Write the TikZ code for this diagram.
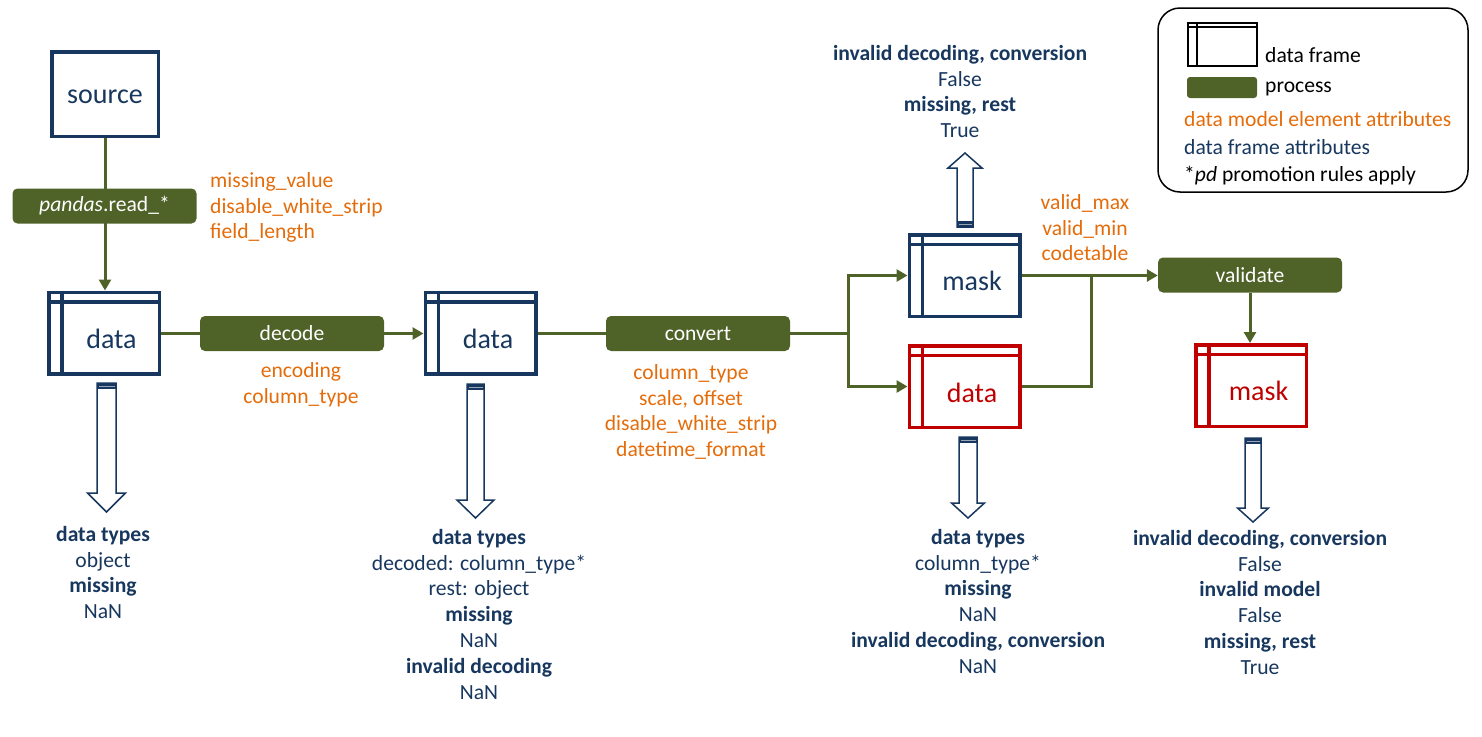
\documentclass[tikz,border=0pt]{standalone}
\usepackage{fontspec}
\setmainfont{Carlito}
\usetikzlibrary{arrows.meta}
\definecolor{navy}{HTML}{17375E}
\definecolor{olive}{HTML}{4F6228}
\definecolor{dred}{HTML}{C00000}
\definecolor{orng}{HTML}{E46C0A}
\newcommand\txtsize{\fontsize{21.6}{25.8}\selectfont}
\newcommand\bigsize{\fontsize{28}{32}\selectfont}
\tikzset{
  dframe/.style={draw=#1, line width=3.5pt, fill=white, minimum width=110.5pt, minimum height=81.5pt, inner sep=0pt},
  dlabel/.style={text=#1, font=\bigsize, inner sep=0pt},
  proc/.style={fill=olive, rounded corners=5pt, minimum width=184pt, minimum height=35pt, inner sep=0pt, text=white, font=\txtsize},
  conn/.style={draw=olive, line width=3pt},
  arr/.style={conn, -{Triangle[length=11pt,width=12pt]}},
  dftxt/.style={text=navy, font=\txtsize, align=center, inner sep=0pt, anchor=north},
  attr/.style={text=orng, font=\txtsize, align=center, inner sep=0pt, anchor=north},
  harrow/.style={draw=navy, line width=1.5pt, fill=white, line join=miter},
}
\newcommand\framelines[3]{%
  \draw[#1, line width=3.5pt] ([yshift=-11.5pt]#2.north west) -- ([yshift=-11.5pt]#2.north east);
  \draw[#1, line width=3.5pt] ([xshift=15pt]#2.north west) -- ([xshift=15pt]#2.south west);
}
% cx, top, half stem, head y, head half, tip y
\newcommand\hdown[6]{%
  \draw[harrow] (#1-#3,#2) -- (#1-#3,#4) -- (#1-#5,#4) -- (#1,#6) -- (#1+#5,#4) -- (#1+#3,#4) -- (#1+#3,#2) -- cycle;
  \fill[navy] (#1-#3,#2) rectangle (#1+#3,#2+6);
  \draw[white!55!navy, line width=0.8pt] (#1-#3+1.5,#2+3) -- (#1+#3-1.5,#2+3);
}
\newcommand\hup[6]{%
  \draw[harrow] (#1-#3,#2) -- (#1-#3,#4) -- (#1-#5,#4) -- (#1,#6) -- (#1+#5,#4) -- (#1+#3,#4) -- (#1+#3,#2) -- cycle;
  \fill[navy] (#1-#3,#2) rectangle (#1+#3,#2-6);
  \draw[white!55!navy, line width=0.8pt] (#1-#3+1.5,#2-3) -- (#1+#3-1.5,#2-3);
}
\begin{document}
\begin{tikzpicture}[x=1pt,y=-1pt]
\useasboundingbox (0,0) rectangle (1482,736);

% ---- source and first data frame
\node[draw=navy, line width=3.5pt, fill=white, minimum width=106.5pt, minimum height=84.5pt, inner sep=0pt,
      text=navy, font=\bigsize] (src) at (105,94) {\vphantom{d}source};
\node[dframe=navy] (d1) at (104,333) {};
\framelines{navy}{d1}{}
\node[dlabel=navy] (d1t) at (111.5,339) {data};
\draw[arr] (src.south) -- (src.south |- d1.north);
\node[proc] (read) at (104.5,206) {\textit{pandas}.read\_*};
\node[attr, anchor=north west, align=left] (readattr) at (210,169)
  {\strut missing\_value\\disable\_white\_strip\\field\_length};

% ---- decode
\node[proc] (dec) at (292,333.5) {decode};
\node[dframe=navy] (d2) at (480.5,333) {};
\framelines{navy}{d2}{}
\node[dlabel=navy] (d2t) at (488,339) {data};
\draw[conn] (d1.east) -- (d1.east -| dec.west);
\draw[arr] (dec.east) -- (dec.east -| d2.west);
\node[attr] (decattr) at (301,359) {\strut encoding\\column\_type};

% ---- convert
\node[proc] (conv) at (698,333.5) {convert};
\draw[conn] (d2.east) -- (d2.east -| conv.west);
\node[attr] (convattr) at (691,361)
  {\strut column\_type\\scale, offset\\disable\_white\_strip\\datetime\_format};

% ---- mask / data after convert
\node[dframe=navy] (mk) at (964.5,275.5) {};
\framelines{navy}{mk}{}
\node[dlabel=navy] (mkt) at (972,281) {mask};
\node[dframe=dred] (d3) at (964.5,386.5) {};
\framelines{dred}{d3}{}
\node[dlabel=dred] (d3t) at (972,393) {data};
\coordinate (br) at (848,333.5);
\draw[conn] (conv.east) -- (br);
\draw[arr] (br) |- (mk.west);
\draw[arr] (br) |- (d3.west);

% ---- validate
\node[proc] (val) at (1250,275) {validate};
\coordinate (jn) at (1091,275.5);
\draw[arr] (mk.east) -- (mk.east -| val.west);
\draw[conn] (d3.east) -| (jn);
\node[attr] (valattr) at (1085,191) {\strut valid\_max\\valid\_min\\codetable};
\node[dframe=dred] (m2) at (1251,385.5) {};
\framelines{dred}{m2}{}
\node[dlabel=dred] (m2t) at (1258.5,391) {mask};
\draw[arr] (val.south) -- (val.south |- m2.north);

% ---- hollow arrows
\hdown{106.5}{383}{9.5}{493}{19}{512}
\hdown{475.5}{384}{8.5}{500}{18.5}{518}
\hdown{968}{437}{9}{503}{16.5}{518}
\hdown{1253}{438}{8}{508}{15.5}{522}
\hup{965}{227}{8}{168}{17}{153}

% ---- data frame attribute texts
\node[dftxt] (t1) at (103,523)
  {\strut\textbf{data types}\\object\\\textbf{missing}\\NaN};
\node[dftxt] (t2) at (479,526)
  {\strut\textbf{data types}\\decoded: column\_type*\\rest: object\\\textbf{missing}\\NaN\\\textbf{invalid decoding}\\NaN};
\node[dftxt] (t3) at (978,526)
  {\strut\textbf{data types}\\column\_type*\\\textbf{missing}\\NaN\\\textbf{invalid decoding, conversion}\\NaN};
\node[dftxt] (t4) at (1260,527)
  {\strut\textbf{invalid decoding, conversion}\\False\\\textbf{invalid model}\\False\\\textbf{missing, rest}\\True};
\node[dftxt] (t5) at (960,42)
  {\strut\textbf{invalid decoding, conversion}\\False\\\textbf{missing, rest}\\True};

% ---- legend
\node[draw=black, line width=1.5pt, rounded corners=22pt, minimum width=310pt, minimum height=184pt, inner sep=0pt] (legend) at (1313,100) {};
\node[draw=black, line width=1.8pt, minimum width=69pt, minimum height=43pt, inner sep=0pt] (lgf) at (1222.5,44.5) {};
\draw[black, line width=1.8pt] ([yshift=-5pt]lgf.north west) -- ([yshift=-5pt]lgf.north east);
\draw[black, line width=1.8pt] ([xshift=10pt]lgf.north west) -- ([xshift=10pt]lgf.south west);
\node[fill=olive, rounded corners=3pt, minimum width=70pt, minimum height=21pt, inner sep=0pt] (lgp) at (1222,87.5) {};
\node[anchor=base west, inner sep=0pt, font=\txtsize] (lgft) at (1265,62) {data frame};
\node[anchor=base west, inner sep=0pt, font=\txtsize] (lgpt) at (1265,92) {process};
\node[anchor=base west, inner sep=0pt, font=\txtsize, text=orng] (lg1) at (1184,126) {data model element attributes};
\node[anchor=base west, inner sep=0pt, font=\txtsize, text=navy] (lg2) at (1184,154) {data frame attributes};
\node[anchor=base west, inner sep=0pt, font=\txtsize] (lg3) at (1184,181) {*\textit{pd} promotion rules apply};
\end{tikzpicture}
\end{document}
